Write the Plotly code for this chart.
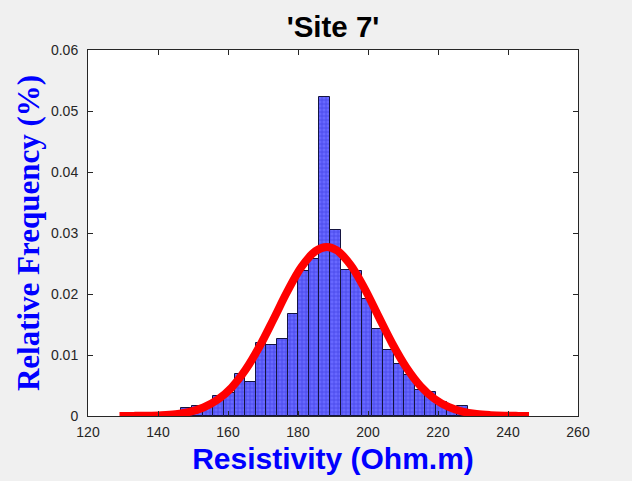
import plotly.graph_objects as go

# ---------------- data ----------------
bin_edges = [137.62, 140.65, 143.68, 146.71, 149.74, 152.77, 155.80, 158.83, 161.86,
             164.89, 167.92, 170.95, 173.98, 177.01, 180.04, 183.07, 186.10, 189.13,
             192.16, 195.19, 198.22, 201.25, 204.28, 207.31, 210.34, 213.37, 216.40,
             219.43, 222.46, 225.49, 228.52]
rel_freq = [0.0005, 0.0003, 0.0004, 0.0013, 0.0016, 0.0015, 0.0033, 0.0038, 0.0069,
            0.0055, 0.0120, 0.0117, 0.0126, 0.0168, 0.0238, 0.0258, 0.0523, 0.0305,
            0.0240, 0.0238, 0.0191, 0.0143, 0.0109, 0.0086, 0.0067, 0.0043, 0.0040,
            0.0023, 0.0015, 0.0017]

fit_x = [129, 133, 137, 141, 145, 149, 153, 157, 161, 165, 169, 173, 177, 181, 185,
         188.2, 191, 195, 199, 203, 207, 211, 215, 219, 223, 227, 231, 235, 239, 243, 246]
fit_y = [0.00001, 0.00002, 0.00005, 0.00013, 0.00031, 0.00068, 0.00140, 0.00265,
         0.00465, 0.00757, 0.01139, 0.01587, 0.02047, 0.02445, 0.02702, 0.02770,
         0.02718, 0.02478, 0.02091, 0.01633, 0.01181, 0.00791, 0.00490, 0.00281,
         0.00149, 0.00073, 0.00033, 0.00014, 0.00005, 0.00002, 0.00001]

x_ticks = [120, 140, 160, 180, 200, 220, 240, 260]
y_ticks = [0, 0.01, 0.02, 0.03, 0.04, 0.05, 0.06]
y_tick_labels = ["0", "0.01", "0.02", "0.03", "0.04", "0.05", "0.06"]

title_text = "'Site 7'"
x_label = "Resistivity (Ohm.m)"
y_label = "Relative Frequency (%)"

# ---------------- figure ----------------
centers = [(a + b) / 2 for a, b in zip(bin_edges[:-1], bin_edges[1:])]
widths = [b - a for a, b in zip(bin_edges[:-1], bin_edges[1:])]

fig = go.Figure()
fig.add_trace(go.Bar(
    x=centers, y=rel_freq, width=widths,
    marker=dict(
        color="#5a5aff",
        line=dict(color="#141440", width=1),
        pattern=dict(shape="+", fgcolor="#2424d0", bgcolor="#6868ff",
                     size=4, solidity=0.35),
    ),
    showlegend=False, hoverinfo="x+y",
))
fig.add_trace(go.Scatter(
    x=fit_x, y=fit_y, mode="lines",
    line=dict(color="#ff0000", width=8, shape="spline"),
    showlegend=False,
))

axis_common = dict(
    showline=True, linecolor="#262626", linewidth=1, mirror="ticks",
    ticks="inside", ticklen=5, tickcolor="#262626", tickwidth=1,
    showgrid=False, zeroline=False,
    tickfont=dict(family="Liberation Sans, Arial", size=14, color="#262626"),
)

fig.update_layout(
    width=632, height=481,
    margin=dict(l=88, r=54, t=50, b=65),
    paper_bgcolor="#f0f0f0", plot_bgcolor="#ffffff",
    bargap=0,
    title=dict(text="<b>" + title_text + "</b>", x=(88 + 578) / 2 / 632, xanchor="center",
               y=1 - 27 / 481, yanchor="middle",
               font=dict(family="Liberation Sans, Arial", size=29.5, color="#000000")),
    xaxis=dict(range=[120, 260], tickvals=x_ticks, ticklabelstandoff=3, **axis_common,
               title=dict(text="<b>" + x_label + "</b>", standoff=9,
                          font=dict(family="Liberation Sans, Arial", size=30, color="#0000ff"))),
    yaxis=dict(range=[0, 0.06], tickvals=y_ticks, ticktext=y_tick_labels,
               ticklabelstandoff=6, **axis_common,
               title=dict(text="<b>" + y_label + "</b>", standoff=2,
                          font=dict(family="Liberation Serif, Times New Roman", size=31, color="#0000ff"))),
)

fig.write_html("out.html")
